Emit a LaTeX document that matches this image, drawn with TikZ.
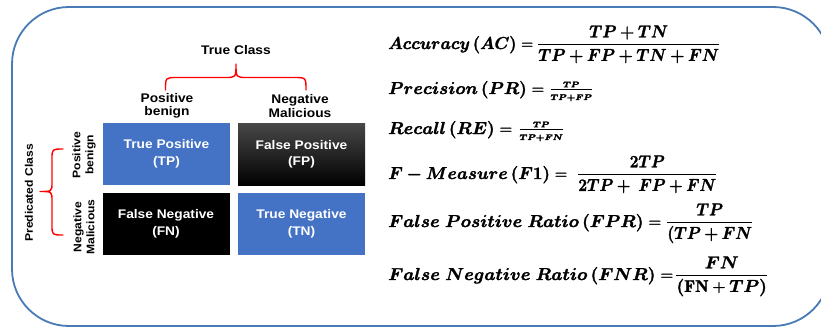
\documentclass[tikz,border=0pt]{standalone}
\usepackage{amsmath}
\usepackage{bm}
\usepackage{graphicx}
\usepackage{fontspec}
\newfontfamily\lblfont[FakeStretch=1.1]{Liberation Sans}

\definecolor{frameblue}{RGB}{72,122,182}
\definecolor{cellblue}{RGB}{68,114,196}
\definecolor{bracered}{RGB}{255,0,0}

% heavier glyphs: fill and stroke the outlines
\newcommand{\heavy}[1]{\special{pdf:literal 2 Tr 0.3 w}#1\special{pdf:literal 0 Tr}}
% set a piece of a formula to a given width (in pt), height unchanged
\newcommand{\fitw}[2]{\heavy{\resizebox{#1pt}{\height}{#2}}}

\tikzset{
  frame/.style={draw=frameblue, line width=1.8pt, rounded corners=57pt},
  cellbase/.style={minimum width=127pt, minimum height=62pt, inner sep=0pt,
    align=center, text=white, font=\lblfont\bfseries\fontsize{12.5}{16.5}\selectfont},
  poscell/.style={cellbase, fill=cellblue},
  negcell/.style={cellbase, fill=black},
  shadedcell/.style={cellbase, top color=black!72, middle color=black, bottom color=black},
  toplabel/.style={align=center, font=\lblfont\bfseries\fontsize{12.5}{13.5}\selectfont},
  sidelabel/.style={align=center, rotate=90, font=\lblfont\bfseries\fontsize{11}{13}\selectfont},
  curly/.style={draw=bracered, line width=1.4pt, line cap=round, line join=round},
  formula/.style={anchor=base west, inner sep=0pt, font=\fontsize{16.8}{20}\selectfont},
}

\begin{document}
\begin{tikzpicture}[x=1pt, y=-1pt]
  \useasboundingbox (0,0) rectangle (821,329);
  \clip (0,0) rectangle (821,329);

  % outer rounded frame (its right edge runs past the page)
  \draw[frame] (12,7) rectangle (830,326);

  % confusion matrix cells
  \node[poscell]    (tp) at (166.5,154) {True Positive\\(TP)};
  \node[shadedcell] (fp) at (301.5,154.5) {False Positive\\(FP)};
  \node[negcell]    (fn) at (166,224) {False Negative\\(FN)};
  \node[poscell]    (tn) at (301.5,224) {True Negative\\(TN)};

  % column headings
  \node[toplabel] (trueclass) at (236,50) {True Class};
  \node[toplabel] (colpos) at (167,106) {Positive\\benign};
  \node[toplabel] (colneg) at (300,106) {Negative\\Malicious};

  % row headings
  \node[sidelabel] (predclass) at (29,193) {Predicated Class};
  \node[sidelabel] (rowpos) at (84,155) {Positive\\benign};
  \node[sidelabel] (rowneg) at (84,227) {Negative\\Malicious};

  % horizontal brace over the columns
  \draw[curly] (165.5,90) .. controls (165.5,77.5) .. (177,77.5) -- (225,77.5)
    .. controls (236,77.5) .. (236,64) .. controls (236,77.5) .. (247,77.5)
    -- (294,77.5) .. controls (306,77.5) .. (306,90);

  % vertical brace beside the rows
  \draw[curly] (63,149) .. controls (52,149) .. (52,159) -- (52,182)
    .. controls (52,191.5) .. (40,191.5) .. controls (52,191.5) .. (52,201)
    -- (52,225) .. controls (52,235) .. (63,235);

  % evaluation measures: left-hand sides
  \node[formula] (acc)   at (388,49)  {\fitw{145}{$\bm{Accuracy\,(AC)} =$}};
  \node[formula] (prec)  at (388,94)  {\fitw{156}{$\bm{Precision\,(PR)} =$}};
  \node[formula] (rec)   at (388,134) {\fitw{124}{$\bm{Recall\,(RE)} =$}};
  \node[formula] (fmeas) at (388,179) {\fitw{179}{$\bm{F - Measure\,(F1)} =$}};
  \node[formula] (fpr)   at (388,227) {\fitw{273}{$\bm{False\ Positive\ Ratio\,(FPR)} =$}};
  \node[formula] (fnr)   at (388,280) {\fitw{285}{$\bm{False\ Negative\ Ratio\,(FNR)} =$}};

  % evaluation measures: fractions
  \node[formula] (accfrac)   at (537,49)
    {\fitw{183}{$\dfrac{\bm{TP+TN}}{\bm{TP+FP+TN+FN}}$}};
  \node[formula] (precfrac)  at (549,94)
    {\fitw{44}{$\frac{\scriptscriptstyle\bm{TP}}{\scriptscriptstyle\bm{TP+FP}}$}};
  \node[formula] (recfrac)   at (518,134)
    {\fitw{46}{$\frac{\scriptscriptstyle\bm{TP}}{\scriptscriptstyle\bm{TP+FN}}$}};
  \node[formula] (fmeasfrac) at (577,179)
    {\fitw{140}{$\dfrac{\bm{2TP}}{\bm{2TP+\ FP+FN}}$}};
  \node[formula] (fprfrac)   at (666,227)
    {\fitw{87}{$\dfrac{\bm{TP}}{\bm{(TP+FN}}$}};
  \node[formula] (fnrfrac)   at (675,280)
    {\fitw{93}{$\dfrac{\bm{FN}}{\bm{(}\mathbf{FN}+\bm{TP)}}$}};
\end{tikzpicture}
\end{document}
